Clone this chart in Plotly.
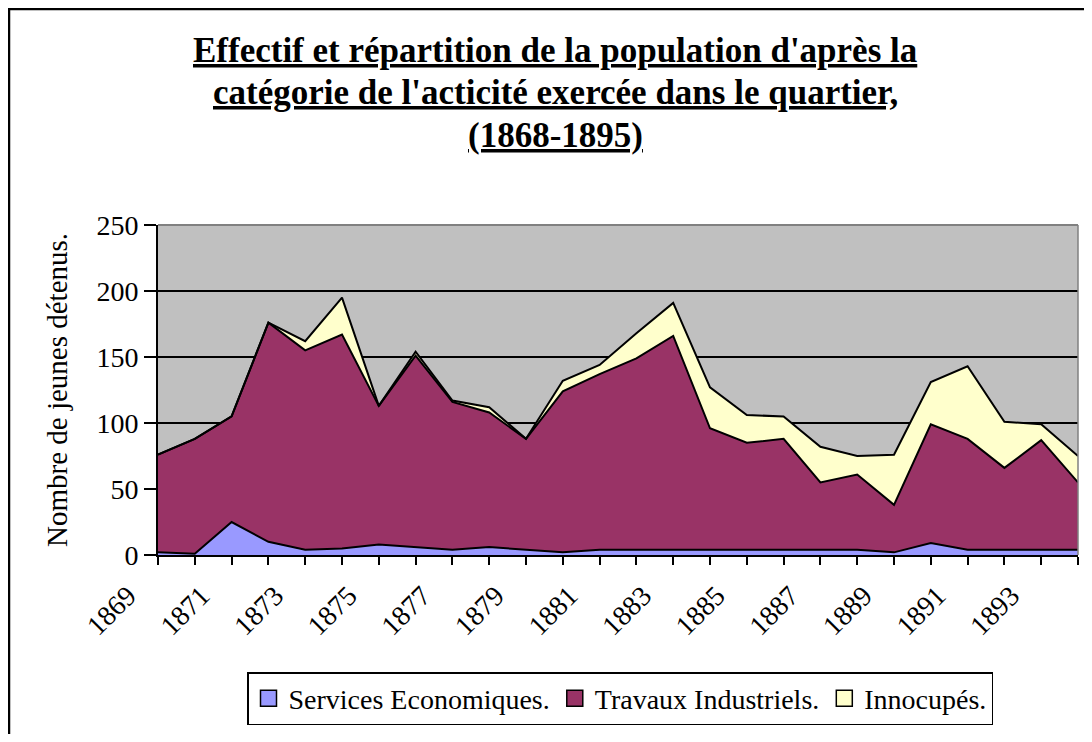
import plotly.graph_objects as go

years = list(range(1869, 1895))
services = [2, 1, 25, 10, 4, 5, 8, 6, 4, 6, 4, 2, 4, 4, 4, 4, 4, 4, 4, 4, 2, 9, 4, 4, 4, 4]
travaux = [74, 87, 80, 166, 151, 162, 105, 145, 112, 102, 84, 122, 133, 145, 162, 92, 81, 84, 51, 57, 36, 90, 84, 62, 83, 51]
innocupes = [0, 0, 0, 0, 7, 28, 0, 3, 1, 4, 0, 8, 7, 19, 25, 31, 21, 17, 27, 14, 38, 32, 55, 35, 12, 20]
tick_labels = [str(y) if (y - 1869) % 2 == 0 else "" for y in years]
y_ticks = [0, 50, 100, 150, 200, 250]

names = ["Services Economiques.", "Travaux Industriels.", "Innocupés."]
colors = ["#9999FF", "#993366", "#FFFFCC"]
series = [services, travaux, innocupes]

SERIF = "Liberation Serif, Times New Roman, serif"

# page has an 8px body margin: work in screen coords, convert to figure coords
OFF = 8
W, H = 1092 - 2 * OFF, 742 - 2 * OFF
L, R, T, B = 158 - OFF, 1078 - OFF, 225 - OFF, 555 - OFF
pw, ph = R - L, B - T

def px(xs):
    return (xs - OFF - L) / pw

def py(ys):
    return (B - (ys - OFF)) / ph

fig = go.Figure()
for name, col, vals in zip(names, colors, series):
    fig.add_trace(go.Scatter(
        x=years, y=vals, name=name, mode="lines", stackgroup="one",
        line=dict(color="black", width=2), fillcolor=col, showlegend=False,
    ))
# legend swatches
for name, col in zip(names, colors):
    fig.add_trace(go.Scatter(
        x=[None], y=[None], name=name, mode="markers",
        marker=dict(symbol="square", size=16, color=col, line=dict(color="black", width=1.5)),
        showlegend=True,
    ))

fig.update_layout(
    width=W, height=H,
    margin=dict(l=L, r=W - R, t=T, b=H - B, pad=0),
    paper_bgcolor="white", plot_bgcolor="#C0C0C0",
    showlegend=True,
    legend=dict(
        orientation="h", x=px(620), xanchor="center", y=py(672), yanchor="top",
        font=dict(family=SERIF, size=28, color="black"),
        bordercolor="black", borderwidth=1.5, bgcolor="white",
        traceorder="normal", itemwidth=30, itemsizing="trace",
    ),
    font=dict(family=SERIF, color="black"),
)

fig.update_xaxes(
    range=[1869, 1894], tickmode="array", tickvals=years, ticktext=tick_labels,
    tickangle=-45, ticks="outside", ticklen=8, tickwidth=1.5, tickcolor="black",
    ticklabelshift=-30, ticklabelstandoff=3,
    showline=True, linecolor="black", linewidth=2, showgrid=False, zeroline=False,
    tickfont=dict(family=SERIF, size=28, color="black"),
)
fig.update_yaxes(
    range=[0, 250], tickmode="array", tickvals=y_ticks,
    ticks="outside", ticklen=12, tickwidth=1.5, tickcolor="black",
    showline=True, linecolor="black", linewidth=2,
    showgrid=True, gridcolor="black", gridwidth=1.5, zeroline=False,
    tickfont=dict(family=SERIF, size=28, color="black"),
)

# y-axis title
fig.add_annotation(
    text="Nombre de jeunes détenus.", xref="paper", yref="paper",
    x=px(57), y=py(390), xanchor="center", yanchor="middle", textangle=-90,
    showarrow=False, font=dict(family=SERIF, size=29, color="black"),
)

title_lines = [
    ("Effectif et répartition de la population d'après la", 50),
    ("catégorie de l'acticité exercée dans le quartier,", 92),
    ("(1868-1895)", 135),
]
for txt, yc in title_lines:
    fig.add_annotation(
        text="<b>" + txt + "</b>", xref="paper", yref="paper",
        x=px(555), y=py(yc), xanchor="center", yanchor="middle", showarrow=False,
        font=dict(family=SERIF, size=35, color="black", lineposition="under"),
    )

# plot-area top and right border (grey)
fig.add_shape(type="line", xref="paper", yref="paper", x0=0, x1=1, y0=1, y1=1,
              line=dict(color="#808080", width=2), layer="above")
fig.add_shape(type="line", xref="paper", yref="paper", x0=1, x1=1, y0=0, y1=1,
              line=dict(color="#808080", width=1.5), layer="above")
# outer chart border (left and top)
fig.add_shape(type="rect", xref="paper", yref="paper",
              x0=px(9), x1=px(1300), y0=py(1000), y1=py(9),
              line=dict(color="black", width=2.5), fillcolor="rgba(0,0,0,0)", layer="above")

fig.write_html("out.html")
